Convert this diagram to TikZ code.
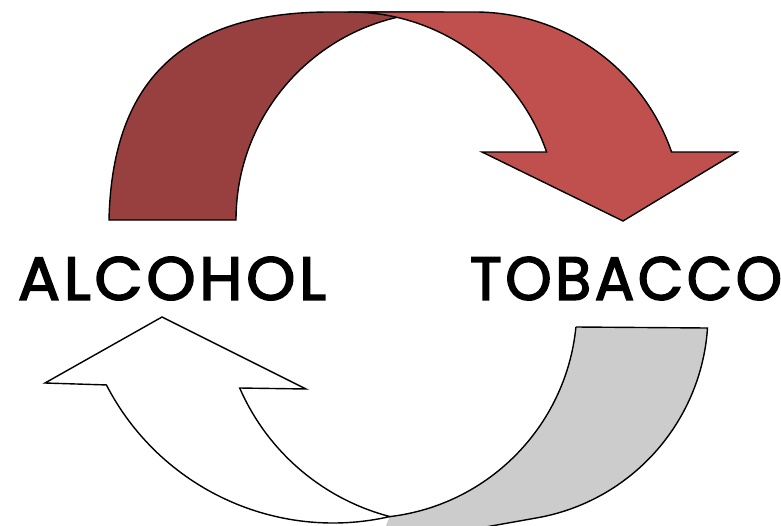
\documentclass[tikz,border=0pt]{standalone}
\usepackage{fontspec}
\usepackage{graphicx}
\newfontfamily\labelfont{Poppins}[LetterSpace=6, FakeBold=2.6]
\definecolor{darkred}{RGB}{152,64,63}
\definecolor{lightred}{RGB}{192,80,77}
\definecolor{greyband}{RGB}{204,204,204}
\begin{document}
\begin{tikzpicture}[x=1pt,y=-1pt,
  band/.style={line width=1.4pt, line join=miter},
  lbl/.style={inner sep=0pt, font=\labelfont}]
\useasboundingbox (0,0) rectangle (781,525);
\clip (0,0) rectangle (781,525);

% top arrow: back part
\path[fill=darkred, draw=black, band]
  (109,220) .. controls (112,87) and (176,12) .. (330,12)
  -- (444,12) arc[start angle=270, end angle=180, radius=208] -- cycle;
% top arrow: front part with head
\path[fill=lightred, draw=black, band]
  (350,12) -- (475,12) arc[start angle=270, end angle=340.92, radius=208]
  -- (737,152) -- (623,221) -- (482,152) -- (546.6,152)
  arc[start angle=340.92, end angle=270, radius=208] -- cycle;

% bottom arrow: back part
\fill[greyband]
  (576,327) -- (707.5,328) arc[start angle=3.88, end angle=80, radius=207]
  -- (480,528) -- (480,540) -- (380,540) -- (389.7,516.6)
  arc[start angle=83.3, end angle=5.68, radius=212] -- cycle;
\draw[band] (576,327) -- (707.5,328) arc[start angle=3.88, end angle=80, radius=207] -- (480,528);
\draw[band] (389.7,516.6) arc[start angle=83.3, end angle=5.68, radius=212];
% bottom arrow: front part with head
\path[fill=white, draw=black, band]
  (389.7,516.6) arc[start angle=77.15, end angle=152.7, radius=255]
  -- (45,383) -- (162,317) -- (306,389) -- (239.7,388)
  arc[start angle=156.5, end angle=104.7, radius=226] -- cycle;

\node[lbl] (alcohol) at (172,278.5) {\resizebox{308pt}{43pt}{ALCOHOL}};
\node[lbl] (tobacco) at (626,278.5) {\resizebox{312pt}{43pt}{TOBACCO}};
\end{tikzpicture}
\end{document}
